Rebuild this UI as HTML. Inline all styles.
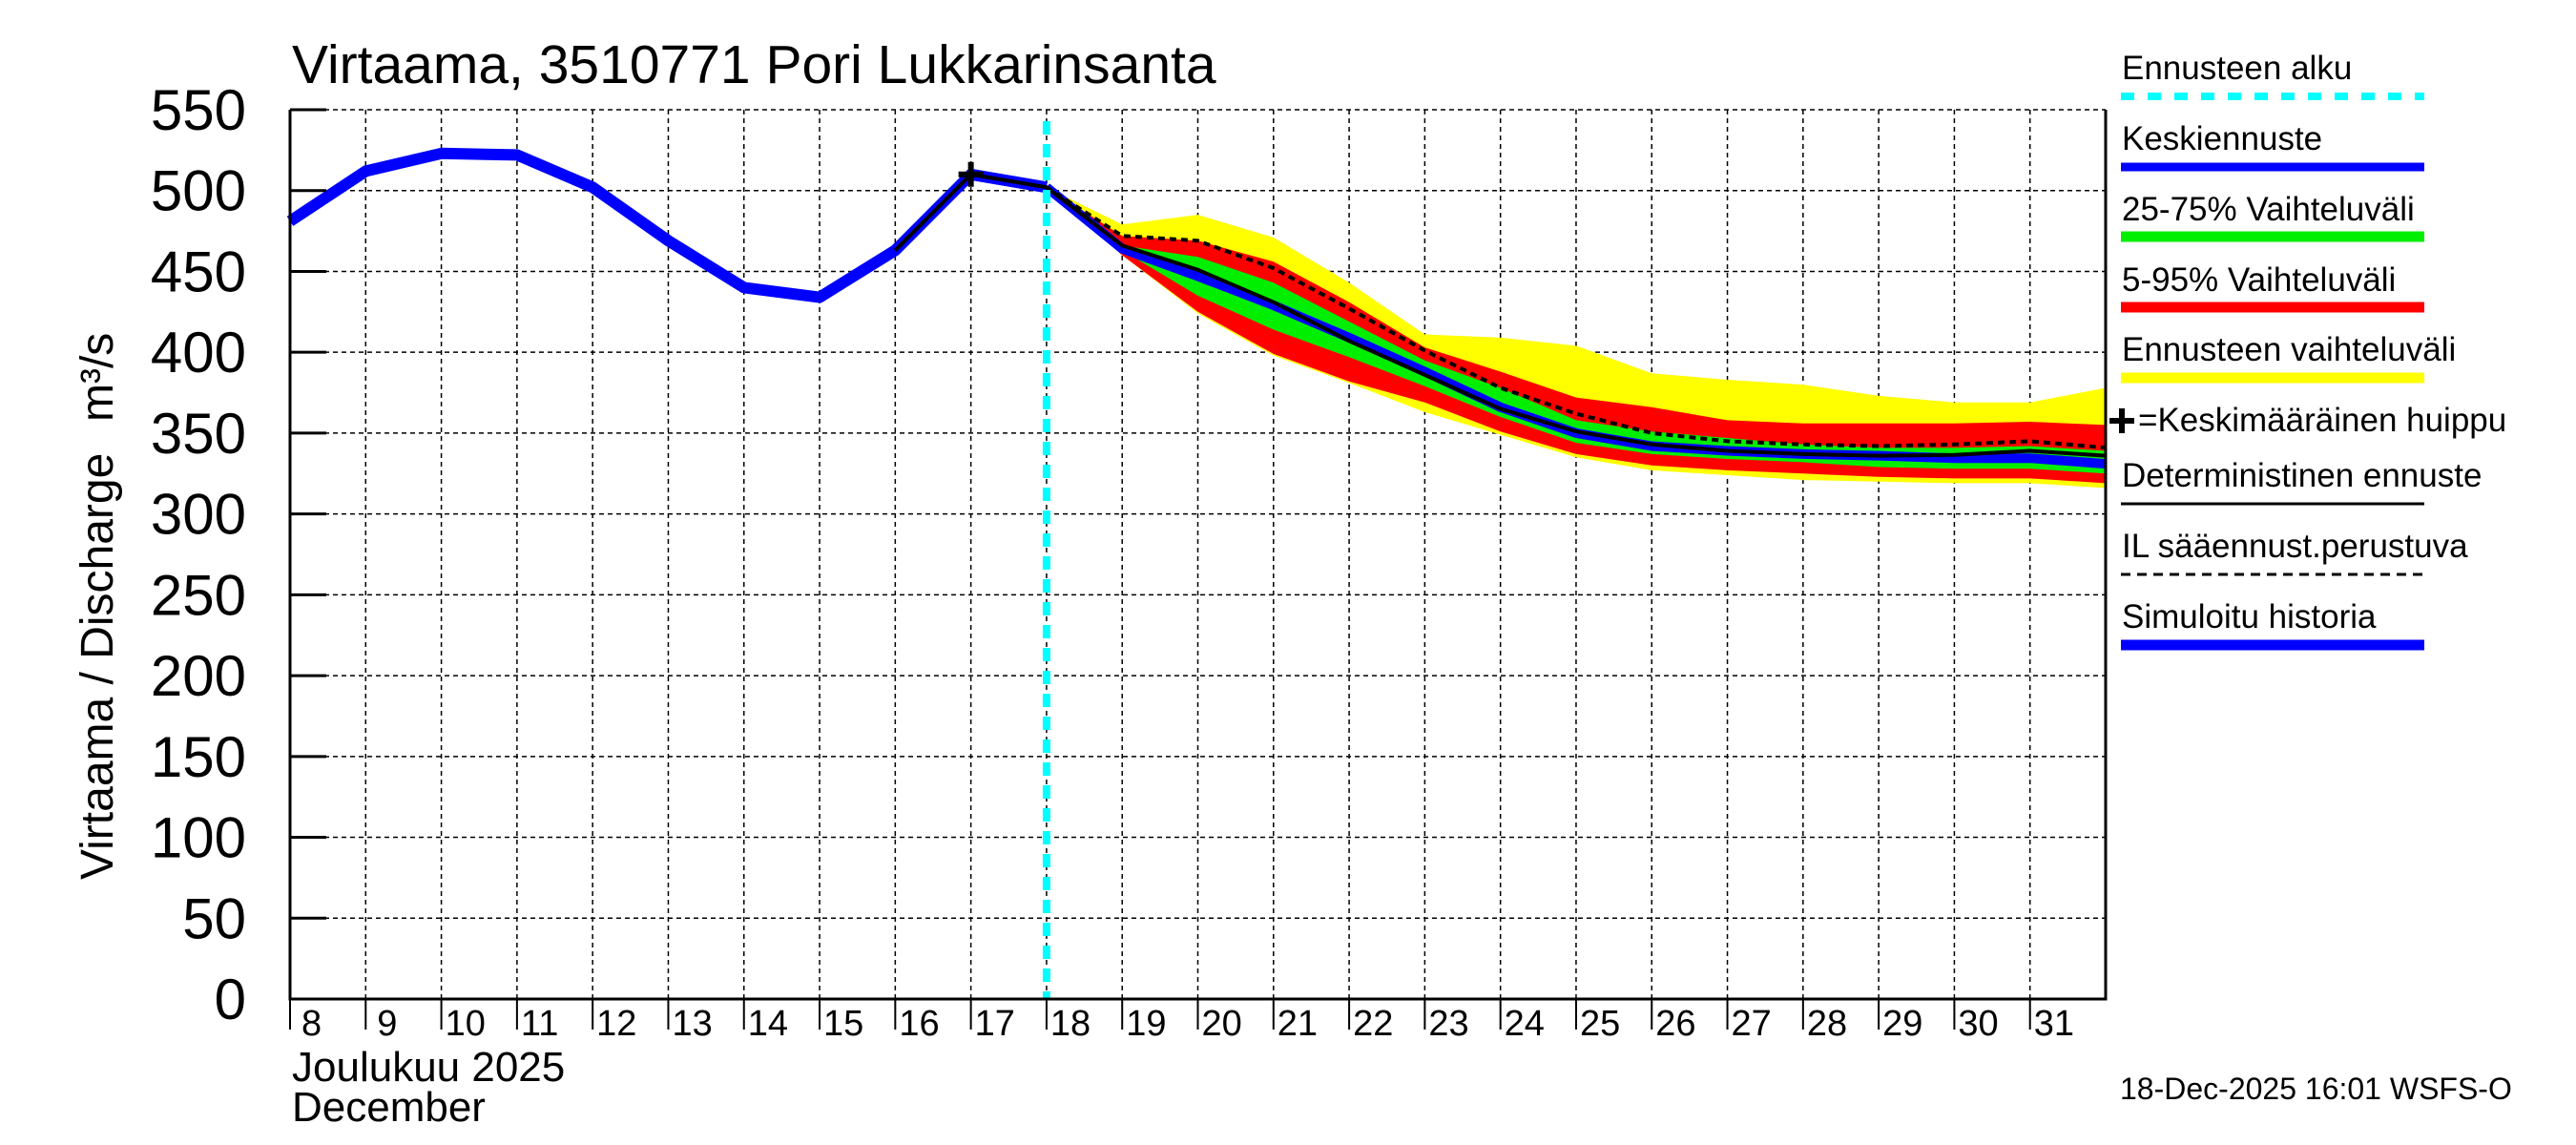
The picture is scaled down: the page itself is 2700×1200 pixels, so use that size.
<!DOCTYPE html>
<html><head><meta charset="utf-8"><style>
html,body{margin:0;padding:0;background:#fff;}
svg{display:block;font-family:"Liberation Sans",sans-serif;}
</style></head><body>
<svg id="chart" width="2700" height="1200" viewBox="0 0 2700 1200" xmlns="http://www.w3.org/2000/svg">
<rect width="2700" height="1200" fill="#fff"/>
<text x="306" y="87" font-size="57">Virtaama, 3510771 Pori Lukkarinsanta</text>
<text transform="translate(118,922) rotate(-90)" font-size="48">Virtaama / Discharge</text>
<text transform="translate(118,442) rotate(-90)" font-size="48">m³/s</text>
<g id="grid"></g><g id="bands"></g><g id="lines"></g><g id="axes"></g>
<g id="legend"></g>
<text x="2222" y="1152" font-size="32">18-Dec-2025 16:01 WSFS-O</text>
</svg>
<script>
const histDays=[8,9,10,11,12,13,14,15,16,17,18];
const histVals=[481,512,523,522,502,469,440,434,463,510,502];
const fcDays=[18,19,20,21,22,23,24,25,26,27,28,29,30,31,32];
const yellowTop=[502,479,485,471,443,411,409,404,387,383,380,373,369,369,378];
const yellowBot=[502,460,424,398,381,363,349,335,327,324,321,320,319,319,316];
const redTop=[502,472,469,456,431,403,388,372,366,358,356,356,356,357,355];
const redBot=[502,460,425,399,382,369,351,337,330,327,325,323,322,322,319];
const greenTop=[502,466,459,443,419,395,378,358,351,347,343,341,341,342,339];
const greenBot=[502,463,435,414,397,379,360,344,337,334,332,329,328,328,325];
const median=[502,464,447,429,409,388,366,350,342,339,337,336,334.5,334.5,331];
const detDays=[16,17,18,19,20,21,22,23,24,25,26,27,28,29,30,31,32];
const determ=[463,510,502,466,451,431,407,386,365,351,343,339,337,336,336.5,339,336];
const ilVals=[502,472,469,452,427,401,378,362,350,345,343,342,343,345,341];
const peakDay=17, peakVal=510, forecastStart=18;
const yTicks=[0,50,100,150,200,250,300,350,400,450,500,550];
const xTicks=[8,9,10,11,12,13,14,15,16,17,18,19,20,21,22,23,24,25,26,27,28,29,30,31];

const NS="http://www.w3.org/2000/svg";
const X0=304,X1=2207,Y0=1047,Y1=115,D0=8,D1=32,V1=550;
const xs=d=>X0+(d-D0)*(X1-X0)/(D1-D0);
const ys=v=>Y0-v*(Y0-Y1)/V1;
function mk(tag,attrs,parent){const e=document.createElementNS(NS,tag);for(const k in attrs)e.setAttribute(k,attrs[k]);document.getElementById(parent).appendChild(e);return e;}
const pts=(d,v)=>d.map((x,i)=>xs(x).toFixed(1)+','+ys(v[i]).toFixed(1)).join(' ');
const band=(top,bot)=>pts(fcDays,top)+' '+pts(fcDays.slice().reverse(),bot.slice().reverse());

yTicks.forEach(v=>{
  const g=mk('line',{x1:X0,x2:X1,y1:ys(v),y2:ys(v),stroke:'#000','stroke-width':1.5,'stroke-dasharray':'5,4'},'grid');
  
  
  const t=mk('line',{x1:X0,x2:X0+38,y1:ys(v),y2:ys(v),stroke:'#000','stroke-width':3},'axes');
  
  
  const l=mk('text',{x:X0-46,y:ys(v)+21,'font-size':60,'text-anchor':'end'},'axes');
  l.textContent=v;
  
  
});
xTicks.forEach(d=>{
  const g=mk('line',{x1:xs(d),x2:xs(d),y1:Y1,y2:Y0,stroke:'#000','stroke-width':1.5,'stroke-dasharray':'5,4'},'grid');
  
  
  const t=mk('line',{x1:xs(d),x2:xs(d),y1:Y0,y2:Y0+32,stroke:'#000','stroke-width':2},'axes');
  
  
  const l=mk('text',{x:xs(d)+(d<10?12:4),y:Y0+38,'font-size':38},'axes');
  l.textContent=d;
  
  
});
[[yellowTop,yellowBot,'#ffff00','band-forecast-range'],[redTop,redBot,'#ff0000','band-5-95'],[greenTop,greenBot,'#00ee00','band-25-75']].forEach(b=>{
  const p=mk('polygon',{points:band(b[0],b[1]),fill:b[2]},'bands');
  
  
});
let e;
e=mk('polyline',{points:pts(fcDays,median),fill:'none',stroke:'#0000ff','stroke-width':10,'stroke-linejoin':'round'},'lines');


e=mk('polyline',{points:pts(histDays,histVals),fill:'none',stroke:'#0000ff','stroke-width':12,'stroke-linejoin':'round'},'lines');


e=mk('polyline',{points:pts(detDays,determ),fill:'none',stroke:'#000','stroke-width':4},'lines');


e=mk('polyline',{points:pts(fcDays,ilVals),fill:'none',stroke:'#000','stroke-width':4,'stroke-dasharray':'7,5'},'lines');


e=mk('line',{x1:xs(forecastStart),x2:xs(forecastStart),y1:Y1+12,y2:Y0,stroke:'#00ffff','stroke-width':8,'stroke-dasharray':'14,10'},'lines');


e=mk('path',{d:`M${xs(peakDay)-13},${ys(peakVal)}h26M${xs(peakDay)},${ys(peakVal)-13}v26`,stroke:'#000','stroke-width':6},'lines');


e=mk('path',{d:`M${X0},${Y1}V${Y0}H${X1}V${Y1}`,fill:'none',stroke:'#000','stroke-width':3},'axes');


e=mk('text',{x:X0+2,y:1133,'font-size':44},'axes');e.textContent='Joulukuu  2025';


e=mk('text',{x:X0+2,y:1175,'font-size':44},'axes');e.textContent='December';


const leg=[['Ennusteen alku',83,101,'#00ffff',8,'14,14'],['Keskiennuste',157,175,'#0000ff',9,''],['25-75% Vaihteluväli',231,248,'#00ee00',11,''],['5-95% Vaihteluväli',305,322,'#ff0000',11,''],['Ennusteen vaihteluväli',378,396,'#ffff00',11,''],['=Keskimääräinen huippu',452,null],['Deterministinen ennuste',510,528,'#000',3,''],['IL sääennust.perustuva',584,602,'#000',3,'10,7'],['Simuloitu historia',658,676,'#0000ff',11,'']];
leg.forEach(l=>{
  const tx=mk('text',{x:l[2]===null?2241:2224,y:l[1],'font-size':35},'legend');
  tx.textContent=l[0];
  
  
  if(l[2]!==null){
    const ln=mk('line',{x1:2223,x2:2541,y1:l[2],y2:l[2],stroke:l[3],'stroke-width':l[4],'stroke-dasharray':l[5]||'none'},'legend');
    
    
  } else {
    const c=mk('path',{d:'M2211,441h26M2224,428v26',stroke:'#000','stroke-width':6},'legend');
    
    
  }
});
</script>
</body></html>
